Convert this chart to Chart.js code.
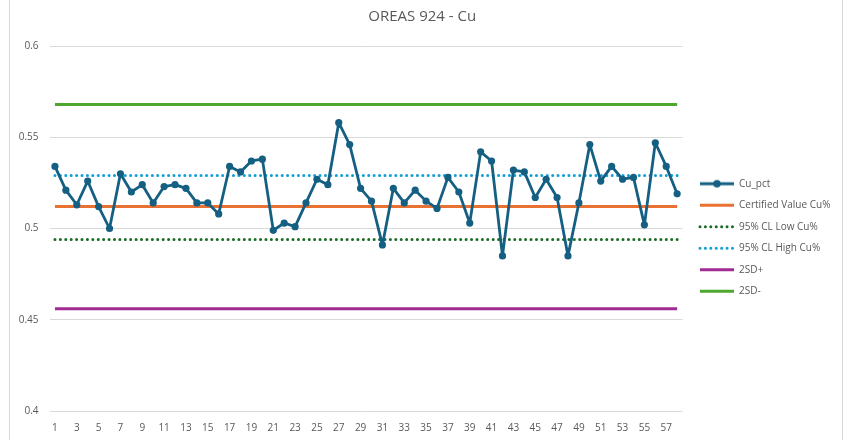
<!DOCTYPE html>
<html><head><meta charset="utf-8">
<script src="https://cdn.jsdelivr.net/npm/chart.js@4"></script>
<style>
html,body{margin:0;padding:0;background:#fff;overflow:hidden;}
#wrap{position:absolute;left:9px;top:0;width:832px;height:440px;border-left:1px solid #d9d9d9;border-right:1px solid #d9d9d9;}
canvas{display:block;}
</style></head><body>
<div id="wrap"><canvas id="c" width="832" height="440"></canvas></div>
<script>
const categories = [];
for (let i = 1; i <= 58; i++) categories.push(String(i));
const cuPct = [0.534,0.521,0.513,0.526,0.512,0.500,0.530,0.520,0.524,0.514,
               0.523,0.524,0.522,0.514,0.514,0.508,0.534,0.531,0.537,0.538,
               0.499,0.503,0.501,0.514,0.527,0.524,0.558,0.546,0.522,0.515,
               0.491,0.522,0.514,0.521,0.515,0.511,0.528,0.520,0.503,0.542,
               0.537,0.485,0.532,0.531,0.517,0.527,0.517,0.485,0.514,0.546,
               0.526,0.534,0.527,0.528,0.502,0.547,0.534,0.519];
const certifiedValue = 0.512;
const cl95Low = 0.494;
const cl95High = 0.529;
const sd2Plus = 0.456;
const sd2Minus = 0.568;
const yMin = 0.4, yMax = 0.6, yStep = 0.05;
const seriesNames = ['Cu_pct','Certified Value Cu%','95% CL Low Cu%','95% CL High Cu%','2SD+','2SD-'];
const title = 'OREAS 924 - Cu';

const constLine = v => categories.map(() => v);
const txt = '#595959';
Chart.defaults.font.family = "'Open Sans', sans-serif";
Chart.defaults.color = txt;

// legend icon for Cu_pct (line with marker)
const icon = document.createElement('canvas');
icon.width = 34; icon.height = 10;
(function(){
  const g = icon.getContext('2d');
  g.strokeStyle = '#156082'; g.fillStyle = '#156082'; g.lineWidth = 3;
  g.beginPath(); g.moveTo(0,5); g.lineTo(34,5); g.stroke();
  g.beginPath(); g.arc(17,5,3.8,0,Math.PI*2); g.fill();
})();

const dotted = [0.01, 5.4];
const datasets = [
  {label: seriesNames[0], data: cuPct, borderColor:'#156082', backgroundColor:'#156082', borderWidth:2.8,
   borderJoinStyle:'round', pointRadius:3.6, pointBorderWidth:0, pointBackgroundColor:'#156082', tension:0},
  {label: seriesNames[1], data: constLine(certifiedValue), borderColor:'#E97132', borderWidth:3, pointRadius:0},
  {label: seriesNames[2], data: constLine(cl95Low), borderColor:'#196B24', borderWidth:3, borderDash:dotted, borderCapStyle:'round', pointRadius:0},
  {label: seriesNames[3], data: constLine(cl95High), borderColor:'#0F9ED5', borderWidth:3, borderDash:dotted, borderCapStyle:'round', pointRadius:0},
  {label: seriesNames[4], data: constLine(sd2Plus), borderColor:'#A02B93', borderWidth:3, pointRadius:0},
  {label: seriesNames[5], data: constLine(sd2Minus), borderColor:'#4EA72E', borderWidth:3, pointRadius:0}
];

const legendShift = {
  id:'legendShift',
  afterLayout(chart){
    const lg = chart.legend;
    const dx = (690 - 11.5) - lg.left;
    lg.left += dx; lg.right += dx;
    lg.top += 17.5; lg.bottom += 17.5;
  }
};

new Chart(document.getElementById('c'), {
  type:'line',
  data:{labels: categories, datasets},
  plugins:[legendShift],
  options:{
    responsive:false, animation:false,
    layout:{padding:{left:0, right:7.5, top:0, bottom:0}},
    plugins:{
      title:{display:true, text:title, color:txt, font:{size:15, weight:'normal'}, padding:{top:8, bottom:20}},
      tooltip:{enabled:false},
      legend:{position:'right',
        labels:{usePointStyle:true, pointStyleWidth:34, padding:11.5, color:txt, font:{size:10},
          generateLabels(chart){
            return chart.data.datasets.map((ds,i)=>({
              text: ds.label, fillStyle: ds.borderColor, strokeStyle: ds.borderColor,
              lineWidth: ds.borderWidth, lineDash: ds.borderDash || [], lineCap: ds.borderCapStyle || 'butt',
              pointStyle: i === 0 ? icon : 'line', datasetIndex: i, hidden: false, fontColor: txt
            }));
          }}}
    },
    scales:{
      x:{offset:true, grid:{display:false, drawTicks:false}, border:{display:false},
         afterFit(s){ s.height = 29; },
         ticks:{autoSkip:false, maxRotation:0, padding:11, font:{size:10}, color:txt,
           callback:(v,i)=> i % 2 === 0 ? categories[i] : ''}},
      y:{min:yMin, max:yMax, grid:{color:'#d9d9d9', drawTicks:false}, border:{display:false},
         afterFit(s){ s.width = 39.5; },
         ticks:{stepSize:yStep, padding:11, font:{size:10}, color:txt,
           callback:v => String(parseFloat(v.toFixed(2)))}}
    }
  }
});
</script>
</body></html>
